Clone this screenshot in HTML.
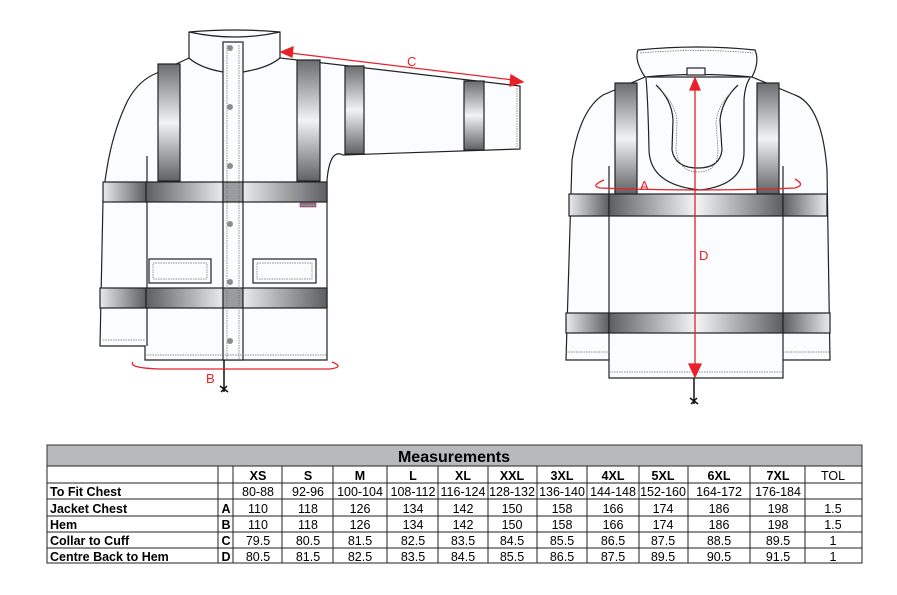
<!DOCTYPE html>
<html><head><meta charset="utf-8"><style>
html,body{margin:0;padding:0;background:#fff;}
svg{display:block}
text{font-family:"Liberation Sans",Arial,sans-serif}
</style></head><body>
<svg width="897" height="595" viewBox="0 0 897 595" xmlns="http://www.w3.org/2000/svg">
<defs>
<linearGradient id="v" x1="0" x2="0" y1="0" y2="1"><stop offset="0" stop-color="#6a6c6f"/><stop offset="0.5" stop-color="#f2f3f4"/><stop offset="1" stop-color="#5f6164"/></linearGradient>
<linearGradient id="hL" x1="0" x2="1"><stop offset="0" stop-color="#e8eaeb"/><stop offset="1" stop-color="#5c5e61"/></linearGradient>
<linearGradient id="hR" x1="0" x2="1"><stop offset="0" stop-color="#5c5e61"/><stop offset="1" stop-color="#e8eaeb"/></linearGradient>
<linearGradient id="hC" x1="0" x2="1"><stop offset="0" stop-color="#5c5e61"/><stop offset="0.5" stop-color="#f4f5f6"/><stop offset="1" stop-color="#5c5e61"/></linearGradient>
<linearGradient id="hF" x1="0" x2="1"><stop offset="0" stop-color="#7d8083"/><stop offset="1" stop-color="#c0c3c6"/></linearGradient>
</defs>
<g stroke="#222" stroke-width="1.2" fill="#fbfcfe">
<!-- LEFT JACKET -->
<path d="M189,58 L157,73 Q139,80 128,100 Q108,140 103,200 L100,346 L145,346 L145,360 L327,360 L327,180 Q330,148 343,155 L520,149 L520,86 L280,58 L280,32 Q235,28 189,32 Z"/>
<path d="M189,32 Q235,42 280,32 M189,58 Q200,68 223,72 M243,72 Q268,68 280,58" fill="none"/>
<path d="M147,156 L147,346" fill="none"/>
<rect x="223" y="42" width="20" height="318"/>
<rect x="158" y="64" width="22" height="117" fill="url(#v)"/>
<rect x="297" y="60" width="23" height="121" fill="url(#v)"/>
<rect x="345" y="66" width="19" height="88" fill="url(#v)"/>
<rect x="464" y="81" width="20" height="69" fill="url(#v)"/>
<rect x="103" y="182" width="43" height="20" fill="url(#hL)"/>
<rect x="146" y="182" width="77" height="20" fill="url(#hR)"/>
<rect x="223" y="182" width="20" height="20" fill="#9a9c9f"/>
<rect x="243" y="182" width="84" height="20" fill="url(#hL)"/>
<rect x="100" y="288" width="46" height="20" fill="url(#hL)"/>
<rect x="146" y="288" width="77" height="20" fill="url(#hR)"/>
<rect x="223" y="288" width="20" height="20" fill="#9a9c9f"/>
<rect x="243" y="288" width="84" height="20" fill="url(#hL)"/>
<rect x="149" y="259" width="62" height="24"/>
<rect x="253" y="259" width="63" height="24"/>
<rect x="300" y="203" width="16" height="4" fill="#888" stroke="#a05" stroke-width="0.5"/>
</g>
<g fill="none" stroke="#666" stroke-width="0.7" stroke-dasharray="1.5 1">
<path d="M153,263 H207 V279 H153 Z M257,263 H312 V279 H257 Z M145,355 H327 M103,340 H145 M517,88 V148 M227,45 V360 M239,45 V360"/>
</g>
<g fill="#8a8c8f"><circle cx="230" cy="48" r="3"/><circle cx="230" cy="107" r="3"/><circle cx="230" cy="166" r="3"/><circle cx="230" cy="224" r="3"/><circle cx="230" cy="282" r="3"/><circle cx="230" cy="341" r="3"/></g>
<path d="M224,360 L224,392 M220,386 L228,392 M221,392 L227,386" stroke="#111" stroke-width="1.5" fill="none"/>
<!-- C arrow -->
<g stroke="#e8202a" fill="#e8202a" stroke-width="1.3">
<line x1="290" y1="53" x2="513" y2="80"/>
<path d="M281,52 L293,47 L292,57 Z"/><path d="M523,82 L511,75 L510,86 Z"/>
<path d="M133,362 Q128,368 160,369 L330,369 Q345,367 332,362" fill="none"/>
</g>
<text x="407" y="66" fill="#e8202a" font-size="13">C</text>
<text x="206" y="383" fill="#e8202a" font-size="13">B</text>

<!-- RIGHT JACKET -->
<g stroke="#222" stroke-width="1.2" fill="#fbfcfe">
<path d="M645,77 L603,95 Q580,110 572,160 L566,360 L609,360 L609,378 L783,378 L783,360 L830,360 L827,170 Q822,105 795,95 L752,77 Z"/>
<path d="M645,77 Q634,60 638,50 Q698,44 755,50 Q760,62 752,77 Q698,72 645,77 Z"/>
<path d="M646,78 Q648,100 649,150 Q650,185 700,190 Q745,185 744,150 L744,100 Q745,85 750,78" fill="none"/>
<path d="M656,85 Q672,100 673,120 L672,150 Q675,168 698,168 Q720,168 722,150 L720,120 Q722,100 738,85" fill="none"/>
<path d="M609,166 V360 M783,166 V360" fill="none"/>
<rect x="615" y="83" width="22" height="111" fill="url(#v)"/>
<rect x="757" y="83" width="22" height="111" fill="url(#v)"/>
<rect x="569" y="194" width="40" height="22" fill="url(#hL)"/>
<rect x="609" y="194" width="174" height="22" fill="url(#hC)"/>
<rect x="783" y="194" width="44" height="22" fill="url(#hR)"/>
<rect x="566" y="313" width="43" height="20" fill="url(#hL)"/>
<rect x="609" y="313" width="174" height="20" fill="url(#hC)"/>
<rect x="783" y="313" width="47" height="20" fill="url(#hR)"/>
<rect x="687" y="68" width="18" height="7"/>
</g>
<g fill="none" stroke="#666" stroke-width="0.7" stroke-dasharray="1.5 1">
<path d="M640,53 Q698,48 753,53 M609,372 H783 M566,352 H609 M783,352 H830 M660,90 Q676,104 677,122 L676,150 Q679,172 698,172 Q718,172 718,150 L716,122 Q718,104 734,90"/>
</g>
<path d="M694,378 L694,404 M690,398 L698,404 M691,404 L697,398" stroke="#111" stroke-width="1.5" fill="none"/>
<g stroke="#e8202a" fill="#e8202a" stroke-width="1.3">
<line x1="695" y1="88" x2="695" y2="366"/>
<path d="M695,78 L690,90 L700,90 Z"/><path d="M695,377 L689,364 L701,364 Z"/>
<path d="M604,180 Q590,186 600,188 Q700,192 795,188 Q806,185 795,179" fill="none"/>
</g>
<text x="640" y="190" fill="#e8202a" font-size="13">A</text>
<text x="699" y="260" fill="#e8202a" font-size="13">D</text>

<!-- TABLE -->
<rect x="47" y="445" width="815" height="21" fill="#b8b9ba" stroke="#333"/>
<text x="454" y="462" text-anchor="middle" font-size="16" font-weight="bold">Measurements</text>
<g stroke="#222" stroke-width="1" fill="none">
<rect x="47" y="466" width="815" height="97"/>
<path d="M47,483 H862 M47,499 H862 M47,516 H862 M47,532 H862 M47,548 H862"/>
<path d="M218,466 V563 M233,466 V563 M282,466 V563 M333,466 V563 M387,466 V563 M438,466 V563 M488,466 V563 M537,466 V563 M587,466 V563 M639,466 V563 M688,466 V563 M750,466 V563 M805,466 V563"/>
</g>
<g font-size="12.5" text-anchor="middle">
<g font-weight="bold"><text x="258" y="480">XS</text><text x="308" y="480">S</text><text x="360" y="480">M</text><text x="413" y="480">L</text><text x="463" y="480">XL</text><text x="512" y="480">XXL</text><text x="562" y="480">3XL</text><text x="613" y="480">4XL</text><text x="663" y="480">5XL</text><text x="719" y="480">6XL</text><text x="778" y="480">7XL</text></g>
<text x="833" y="480">TOL</text>
<g font-weight="bold"><text x="226" y="513">A</text><text x="226" y="529">B</text><text x="226" y="545">C</text><text x="226" y="561">D</text></g>
<g><text x="258" y="496">80-88</text><text x="308" y="496">92-96</text><text x="360" y="496">100-104</text><text x="413" y="496">108-112</text><text x="463" y="496">116-124</text><text x="512" y="496">128-132</text><text x="562" y="496">136-140</text><text x="613" y="496">144-148</text><text x="663" y="496">152-160</text><text x="719" y="496">164-172</text><text x="778" y="496">176-184</text></g>
<g><text x="258" y="513">110</text><text x="308" y="513">118</text><text x="360" y="513">126</text><text x="413" y="513">134</text><text x="463" y="513">142</text><text x="512" y="513">150</text><text x="562" y="513">158</text><text x="613" y="513">166</text><text x="663" y="513">174</text><text x="719" y="513">186</text><text x="778" y="513">198</text><text x="833" y="513">1.5</text></g>
<g><text x="258" y="529">110</text><text x="308" y="529">118</text><text x="360" y="529">126</text><text x="413" y="529">134</text><text x="463" y="529">142</text><text x="512" y="529">150</text><text x="562" y="529">158</text><text x="613" y="529">166</text><text x="663" y="529">174</text><text x="719" y="529">186</text><text x="778" y="529">198</text><text x="833" y="529">1.5</text></g>
<g><text x="258" y="545">79.5</text><text x="308" y="545">80.5</text><text x="360" y="545">81.5</text><text x="413" y="545">82.5</text><text x="463" y="545">83.5</text><text x="512" y="545">84.5</text><text x="562" y="545">85.5</text><text x="613" y="545">86.5</text><text x="663" y="545">87.5</text><text x="719" y="545">88.5</text><text x="778" y="545">89.5</text><text x="833" y="545">1</text></g>
<g><text x="258" y="561">80.5</text><text x="308" y="561">81.5</text><text x="360" y="561">82.5</text><text x="413" y="561">83.5</text><text x="463" y="561">84.5</text><text x="512" y="561">85.5</text><text x="562" y="561">86.5</text><text x="613" y="561">87.5</text><text x="663" y="561">89.5</text><text x="719" y="561">90.5</text><text x="778" y="561">91.5</text><text x="833" y="561">1</text></g>
</g>
<g font-size="12.5" font-weight="bold"><text x="50" y="496">To Fit Chest</text><text x="50" y="513">Jacket Chest</text><text x="50" y="529">Hem</text><text x="50" y="545">Collar to Cuff</text><text x="50" y="561">Centre Back to Hem</text></g>
</svg>
</body></html>
